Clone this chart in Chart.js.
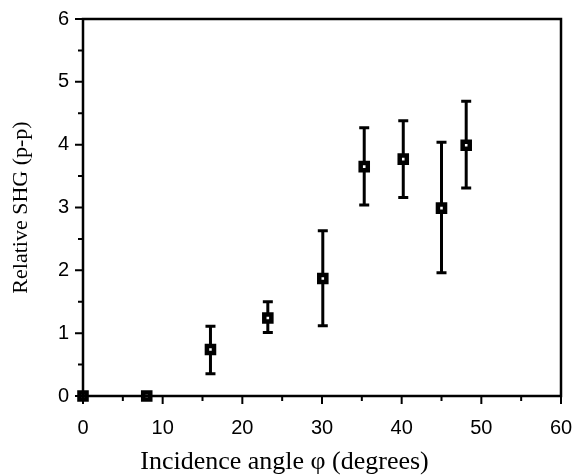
<!DOCTYPE html>
<html>
<head>
<meta charset="utf-8">
<script src="https://cdn.jsdelivr.net/npm/chart.js@4.4.1/dist/chart.umd.min.js"></script>
<style>
  html, body { margin: 0; padding: 0; background: #fff; }
  #wrap { width: 576px; height: 475px; }
</style>
</head>
<body>
<div id="wrap"><canvas id="chart"></canvas></div>
<script>
// incidence angle (deg) and relative SHG
const angles = [0, 8, 16, 23.2, 30.1, 35.3, 40.2, 45, 48.1];
const shg = [0, 0, 0.74, 1.24, 1.87, 3.65, 3.77, 2.99, 3.99];
const errHigh = [0, 0, 1.11, 1.50, 2.63, 4.27, 4.38, 4.04, 4.69];
const errLow = [0, 0, 0.355, 1.01, 1.12, 3.04, 3.16, 1.96, 3.31];
const xTicks = [0, 10, 20, 30, 40, 50, 60];
const yTicks = [0, 1, 2, 3, 4, 5, 6];

const $ink = "#000";
const $tickFont = {family: "'Liberation Sans', Arial, sans-serif", size: 20};
const $titleFont = {family: "'Liberation Serif', 'Times New Roman', serif", size: 22};

// error bars, frame and tick marks (major / minor)
const decor = {
    id: 'decor',
    beforeDatasetsDraw(chart) {
        const ctx = chart.ctx;
        const xs = chart.scales.x, ys = chart.scales.y;
        ctx.save();
        ctx.strokeStyle = $ink;
        ctx.lineWidth = 3;
        ctx.lineCap = 'butt';
        for (let i = 0; i < angles.length; i++) {
            if (errHigh[i] == errLow[i]) continue;
            const px = xs.getPixelForValue(angles[i]);
            const top = ys.getPixelForValue(errHigh[i]);
            const bot = ys.getPixelForValue(errLow[i]);
            ctx.beginPath();
            ctx.moveTo(px, top);
            ctx.lineTo(px, bot);
            ctx.moveTo(px - 5, top);
            ctx.lineTo(px + 5, top);
            ctx.moveTo(px - 5, bot);
            ctx.lineTo(px + 5, bot);
            ctx.stroke();
        }
        ctx.restore();
    },
    afterDraw(chart) {
        const ctx = chart.ctx;
        const a = chart.chartArea;
        const xs = chart.scales.x, ys = chart.scales.y;
        ctx.save();
        ctx.strokeStyle = $ink;
        ctx.lineWidth = 2.5;
        ctx.strokeRect(a.left, a.top, a.right - a.left, a.bottom - a.top);
        ctx.lineWidth = 2;
        ctx.beginPath();
        for (let v = 0; v <= 60; v += 5) {
            const px = xs.getPixelForValue(v);
            const len = v % 10 == 0 ? 8 : 5;
            ctx.moveTo(px, a.bottom);
            ctx.lineTo(px, a.bottom + len);
        }
        for (let v = 0; v <= 6; v += 0.5) {
            const py = ys.getPixelForValue(v);
            const len = v % 1 == 0 ? 8 : 5;
            ctx.moveTo(a.left, py);
            ctx.lineTo(a.left - len, py);
        }
        ctx.stroke();
        ctx.restore();
    }
};

new Chart(
    document.getElementById('chart'),
    {
        type: 'scatter',
        data: {
            datasets: [{
                label: 'SHG',
                data: angles.map((a, i) => ({x: a, y: shg[i]})),
                pointStyle: 'rect',
                pointRadius: 5,
                pointBorderWidth: 4.5,
                pointBackgroundColor: "#fff",
                pointBorderColor: $ink,
                showLine: false,
                clip: false,
            }]
        },
        options: {
            responsive: true,
            maintainAspectRatio: false,
            animation: false,
            layout: {padding: {top: 19, right: 15, left: 8, bottom: 0}},
            plugins: {
                legend: {display: false},
                tooltip: {enabled: false},
                title: {
                    display: true,
                    position: 'bottom',
                    text: 'Incidence angle \u03C6 (degrees)',
                    color: $ink,
                    font: {...$titleFont, size: 26, weight: 'normal', lineHeight: 1},
                    padding: {top: 0, bottom: 0},
                },
            },
            scales: {
                x: {
                    type: 'linear',
                    min: 0,
                    max: 60,
                    afterFit: s => { s.height = 53; s.paddingLeft = 0; s.paddingRight = 0; },
                    afterBuildTicks: s => { s.ticks = xTicks.map(v => ({value: v})); },
                    grid: {display: true, drawOnChartArea: false, drawTicks: false},
                    border: {display: false},
                    ticks: {color: $ink, font: $tickFont, padding: 20, maxRotation: 0},
                },
                y: {
                    type: 'linear',
                    min: 0,
                    max: 6,
                    afterFit: s => { s.width = 75; s.paddingTop = 0; s.paddingBottom = 0; },
                    afterBuildTicks: s => { s.ticks = yTicks.map(v => ({value: v})); },
                    grid: {display: true, drawOnChartArea: false, drawTicks: false},
                    border: {display: false},
                    ticks: {color: $ink, font: $tickFont, padding: 14},
                    title: {
                        display: true,
                        text: 'Relative SHG (p-p)',
                        color: $ink,
                        font: $titleFont,
                        padding: {top: 0, bottom: 0},
                    },
                },
            },
        },
        plugins: [decor],
    }
);
</script>
</body>
</html>
